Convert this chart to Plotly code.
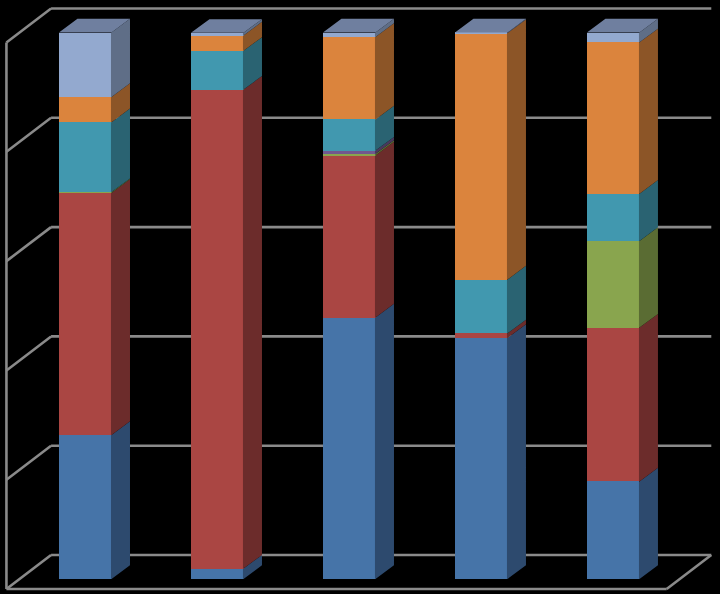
import plotly.graph_objects as go

categories = [0, 1, 2, 3, 4]
blue = [26.35, 1.9, 47.85, 44.1, 17.85]
red = [44.3, 87.65, 29.65, 0.85, 28.15]
green = [0.15, 0, 0.3, 0, 15.85]
purple = [0, 0, 0.6, 0, 0]
teal = [12.8, 7.1, 5.7, 9.85, 8.65]
orange = [4.6, 2.8, 15.1, 45.1, 27.7]
lavender = [11.8, 0.5, 0.8, 0.1, 1.8]
grid_values = [0, 20, 40, 60, 80, 100]

series = [
    (blue, "#4674A8", "#2D4A6E"),
    (red, "#AA4643", "#6C2C2B"),
    (green, "#89A54E", "#5A6C33"),
    (purple, "#71588F", "#49395D"),
    (teal, "#4198AF", "#2A6372"),
    (orange, "#DB843D", "#8C5527"),
    (lavender, "#93A9CF", "#5F6E87"),
]
top_color = "#6F7F9F"

BAR_W = 0.398
DX, DY = 0.14, 2.5            # bar depth
SEAM = 0.004                  # closes the hairline between front and side faces
WALL_DX, WALL_DY = 0.338, 6.22  # chart depth
X_L, X_R = -0.597, 4.405      # front floor edge
Y_F = -1.83                   # front floor level
GRID_BASE = Y_F + WALL_DY

fig = go.Figure()

for vals, col, _ in series:
    fig.add_trace(go.Bar(x=categories, y=vals, width=BAR_W,
                         marker=dict(color=col, line=dict(width=0)),
                         hoverinfo="skip", showlegend=False))

base = [0.0] * len(categories)
for vals, _, side in series:
    xs, ys = [], []
    for i, c in enumerate(categories):
        if vals[i] <= 0:
            continue
        xr = c + BAR_W / 2
        y0, y1 = base[i], base[i] + vals[i]
        xs += [xr - SEAM, xr, xr + DX, xr + DX, xr, xr - SEAM, xr - SEAM, None]
        ys += [y0, y0, y0 + DY, y1 + DY, y1, y1, y0, None]
    fig.add_trace(go.Scatter(x=xs, y=ys, mode="lines", fill="toself", fillcolor=side,
                             line=dict(width=0), hoverinfo="skip", showlegend=False))
    base = [b + v for b, v in zip(base, vals)]

xs, ys = [], []
for i, c in enumerate(categories):
    xl, xr, t = c - BAR_W / 2, c + BAR_W / 2, base[i]
    xs += [xl, xr, xr + DX, xl + DX, xl, None]
    ys += [t, t, t + DY, t + DY, t, None]
fig.add_trace(go.Scatter(x=xs, y=ys, mode="lines", fill="toself", fillcolor=top_color,
                         line=dict(width=0), hoverinfo="skip", showlegend=False))

# Walls and floor, behind the bars
GRID = dict(color="#8A8A8A", width=2.6)
shapes = []
def seg(x0, y0, x1, y1):
    shapes.append(dict(type="line", xref="x", yref="y", x0=x0, y0=y0, x1=x1, y1=y1,
                       line=GRID, layer="below"))

for g in grid_values:
    y = GRID_BASE + g
    seg(X_L + WALL_DX, y, X_R + WALL_DX, y)
    seg(X_L, y - WALL_DY, X_L + WALL_DX, y)
seg(X_L, Y_F, X_L, Y_F + 100)
seg(X_L, Y_F, X_R, Y_F)
seg(X_R, Y_F, X_R + WALL_DX, GRID_BASE)

fig.update_layout(
    barmode="stack", width=720, height=594,
    margin=dict(l=0, r=0, t=0, b=0),
    paper_bgcolor="#000000", plot_bgcolor="#000000",
    shapes=shapes, showlegend=False,
    xaxis=dict(visible=False, range=[-0.6458, 4.809]),
    yaxis=dict(visible=False, range=[-2.745, 105.95]),
)

fig.write_html("out.html", config={"displayModeBar": False},
               post_script="document.body.style.margin='0';document.body.style.background='#000';")
